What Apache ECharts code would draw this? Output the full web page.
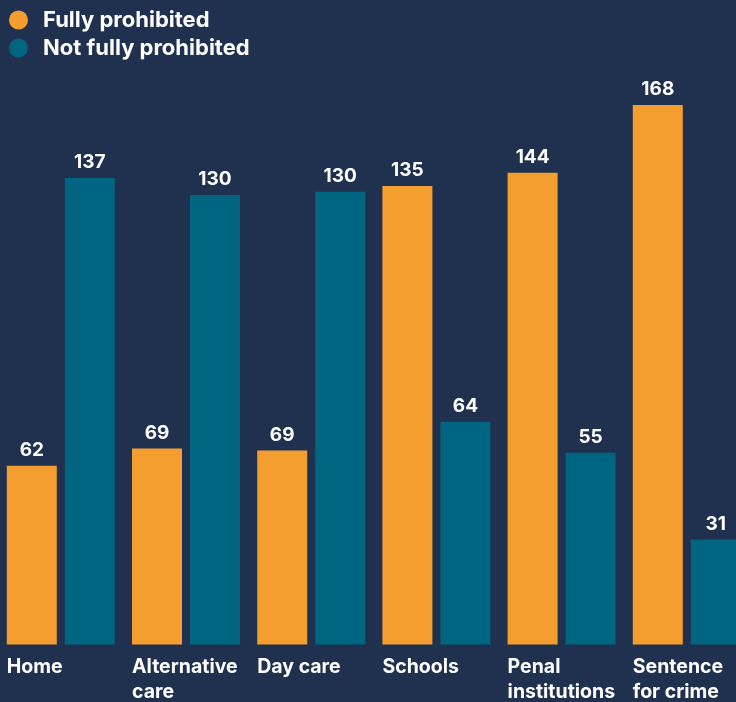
<!DOCTYPE html>
<html>
<head>
<meta charset="utf-8">
<script src="https://cdn.jsdelivr.net/npm/echarts@6/dist/echarts.min.js"></script>
<style>
html,body{margin:0;padding:0;background:#203150;width:736px;height:702px;overflow:hidden;position:relative;}
#chart{position:absolute;left:-2px;top:0;width:753px;height:702px;}
</style>
</head>
<body>
<div id="chart"></div>
<script>
// Categories
const categories = ['Home', 'Alternative\ncare', 'Day care', 'Schools', 'Penal\ninstitutions', 'Sentence\nfor crime'];
// Bar heights as drawn in the reference (value scale 0-200)
const fullyProhibited = [55.5, 60.8, 60.2, 142.3, 146.4, 167.4];
const notFullyProhibited = [144.8, 139.5, 140.5, 69.1, 59.5, 32.6];
// Printed value labels
const fullyLabels = [62, 69, 69, 135, 144, 168];
const notFullyLabels = [137, 130, 130, 64, 55, 31];
const seriesNames = ['Fully prohibited', 'Not fully prohibited'];

const FONT = 'Inter';
const chart = echarts.init(document.getElementById('chart'), null, {renderer: 'canvas'});
const labelStyle = (arr) => ({
  show: true, position: 'top', distance: 6,
  color: '#ffffff', fontFamily: FONT, fontWeight: 'bold', fontSize: 19,
  formatter: p => String(arr[p.dataIndex])
});
chart.setOption({
  backgroundColor: '#203150',
  animation: false,
  legend: {
    orient: 'vertical', left: 11, top: 9, itemGap: 6, padding: 0,
    icon: 'circle', itemWidth: 19, itemHeight: 19,
    textStyle: {color: '#ffffff', fontFamily: FONT, fontWeight: 'bold', fontSize: 22, lineHeight: 22, padding: [0,0,0,10]},
    data: seriesNames
  },
  grid: {left: 0.2, width: 751.2, top: 0, bottom: 57, containLabel: false},
  xAxis: {
    type: 'category', data: categories,
    axisLine: {show: false}, axisTick: {show: false}, splitLine: {show: false},
    axisLabel: {
      interval: 0, margin: 10, align: 'center', verticalAlign: 'top',
      formatter: v => v.split('\n').map(s => '{a|' + s + '}').join('\n'),
      rich: {a: {width: 108, align: 'left', color: '#ffffff', fontFamily: FONT, fontWeight: 'bold', fontSize: 19.5, lineHeight: 25}}
    }
  },
  yAxis: {
    type: 'value', min: 0, max: 200, show: false, splitLine: {show: false}
  },
  series: [
    {name: seriesNames[0], type: 'bar', data: fullyProhibited, barWidth: 50, barGap: '16%',
     itemStyle: {color: '#F49E2F'}, label: labelStyle(fullyLabels)},
    {name: seriesNames[1], type: 'bar', data: notFullyProhibited, barWidth: 50, barGap: '16%',
     itemStyle: {color: '#006581'}, label: labelStyle(notFullyLabels)}
  ]
});
</script>
</body>
</html>
